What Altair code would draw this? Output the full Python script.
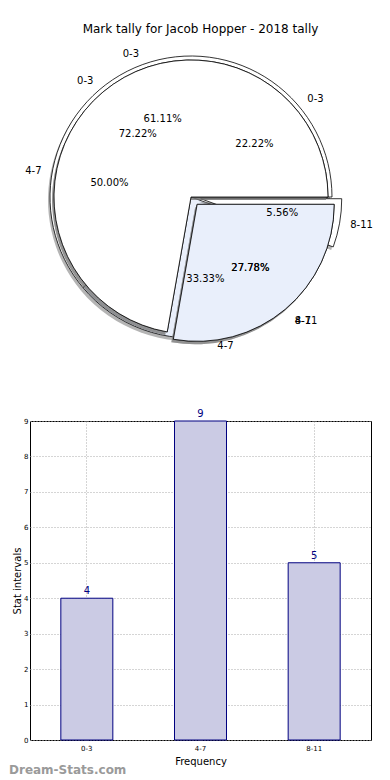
import math
import altair as alt
import pandas as pd

# ---------------- data ----------------
title_text = "Mark tally for Jacob Hopper - 2018 tally"

# three pies drawn on top of each other (order: B, A, C)
pie_b_labels = ["0-3", "4-7", "8-11"]
pie_b_values = [11, 6, 1]
pie_b_colors = ["#ffffff", "#e9effb", "#ffffff"]
pie_b_explode = [0, 0, 0.07]

pie_a_labels = ["0-3", "4-7", "8-11"]
pie_a_values = [4, 9, 5]
pie_a_colors = ["#ffffff", "#ffffff", "#e9effb"]
pie_a_explode = [0, 0, 0.07]

pie_c_labels = ["0-3", "4-7"]
pie_c_values = [13, 5]
pie_c_colors = ["#ffffff", "#e9effb"]
pie_c_explode = [0, 0.07]

bar_labels = ["0-3", "4-7", "8-11"]
bar_counts = [4, 9, 5]
y_ticks = [0, 1, 2, 3, 4, 5, 6, 7, 8, 9]

FONT = "DejaVu Sans"
CX, CY = 161, 155
R_LABEL = 138

TS = alt.Scale(domain=[0, 1], range=[2.5 * math.pi, 0.5 * math.pi])


def pie_frame(labels, values, colors, explode):
    total = float(sum(values))
    rows = []
    acc = 0.0
    for i, (lab, v, c, e) in enumerate(zip(labels, values, colors, explode)):
        f0 = acc / total
        acc += v
        f1 = acc / total
        rows.append(dict(idx=i, label=lab, value=v, color=c, expl=e,
                         f0=f0, f1=f1, fm=(f0 + f1) / 2,
                         pct=f"{100 * v / total:.2f}%"))
    return pd.DataFrame(rows)


def pie_layers(labels, values, colors, explode, r):
    df = pie_frame(labels, values, colors, explode)
    shapes, texts = [], []
    for rec in df.to_dict("records"):
        ang = 2 * math.pi * rec["fm"]
        off = rec["expl"] * r
        dx, dy = off * math.cos(ang), -off * math.sin(ang)
        base = alt.Chart(df).transform_filter(alt.datum.idx == int(rec["idx"]))
        enc = dict(theta=alt.Theta("f0:Q", scale=TS), theta2="f1:Q",
                   x=alt.value(CX), y=alt.value(CY))
        shapes.append(base.mark_arc(outerRadius=r, fill="#777777", fillOpacity=0.55,
                                    xOffset=dx - 2, yOffset=dy + 3).encode(**enc))
        shapes.append(base.mark_arc(outerRadius=r, stroke="black", strokeWidth=0.8,
                                    xOffset=dx, yOffset=dy).encode(
            fill=alt.Fill("color:N", scale=None), **enc))
        c = math.cos(ang)
        align = "left" if c > 0.01 else ("right" if c < -0.01 else "center")
        tenc = dict(theta=alt.Theta("fm:Q", scale=TS), x=alt.value(CX), y=alt.value(CY))
        texts.append(base.mark_text(radius=1.1 * R_LABEL, align=align, baseline="middle",
                                    font=FONT, fontSize=10, color="black",
                                    xOffset=dx, yOffset=dy).encode(text="label:N", **tenc))
        texts.append(base.mark_text(radius=0.6 * R_LABEL, align="center", baseline="middle",
                                    font=FONT, fontSize=10, color="black",
                                    xOffset=dx, yOffset=dy).encode(text="pct:N", **tenc))
    return shapes, texts


shapes, texts = [], []
for args, r in [((pie_b_labels, pie_b_values, pie_b_colors, pie_b_explode), 141),
                ((pie_a_labels, pie_a_values, pie_a_colors, pie_a_explode), 137),
                ((pie_c_labels, pie_c_values, pie_c_colors, pie_c_explode), 137)]:
    s, t = pie_layers(*args, r)
    shapes += s
    texts += t

pie = alt.layer(*shapes, *texts).properties(
    width=341, height=362,
    title=alt.Title(title_text, font=FONT, fontSize=12, fontWeight="normal",
                    color="black", anchor="middle", offset=6),
    view=alt.ViewBackground(stroke="transparent"),
)

# ---------------- bar chart ----------------
bar_df = pd.DataFrame({"label": bar_labels, "count": bar_counts})
x_enc = alt.X("label:N", sort=bar_labels,
              scale=alt.Scale(paddingInner=0, paddingOuter=0),
              axis=alt.Axis(title="Frequency", labelAngle=0, grid=True, gridDash=[1, 2],
                            gridColor="#aaaaaa", ticks=False, domain=False,
                            labelFontSize=7, titleFontSize=10, labelPadding=4,
                            titlePadding=5, bandPosition=0.5))
y_enc = alt.Y("count:Q", scale=alt.Scale(domain=[0, 9], nice=False),
              axis=alt.Axis(title="Stat intervals", values=y_ticks, grid=True,
                            gridDash=[1, 2], gridColor="#aaaaaa", ticks=False,
                            domain=False, labelFontSize=7, titleFontSize=10,
                            labelPadding=2, titlePadding=1))

bars = alt.Chart(bar_df).mark_bar(size=52, fill="#cbcbe4", stroke="#000080",
                                  strokeWidth=1).encode(x=x_enc, y=y_enc)
bar_text = alt.Chart(bar_df).mark_text(dy=-7, color="#000080", font=FONT,
                                       fontSize=10).encode(x=x_enc, y=y_enc, text="count:Q")
watermark = alt.Chart(pd.DataFrame({"t": ["Dream-Stats.com"]})).mark_text(
    align="left", baseline="middle", font=FONT, fontSize=12, fontWeight="bold",
    color="#9a9a9a").encode(text="t:N", x=alt.value(-21), y=alt.value(349))

bar_chart = alt.layer(bars, bar_text, watermark).properties(
    width=341, height=319,
    view=alt.ViewBackground(stroke="black", strokeWidth=1),
)

chart = alt.vconcat(pie, bar_chart, spacing=17, bounds="flush").properties(
    padding={"top": 14, "left": 0, "right": 0, "bottom": 0}
).configure_view(stroke="transparent").configure_axis(
    labelColor="black", titleColor="black", labelFont=FONT, titleFont=FONT,
    titleFontWeight="normal"
)

chart.save("out.html", embed_options={"renderer": "svg", "actions": False})
